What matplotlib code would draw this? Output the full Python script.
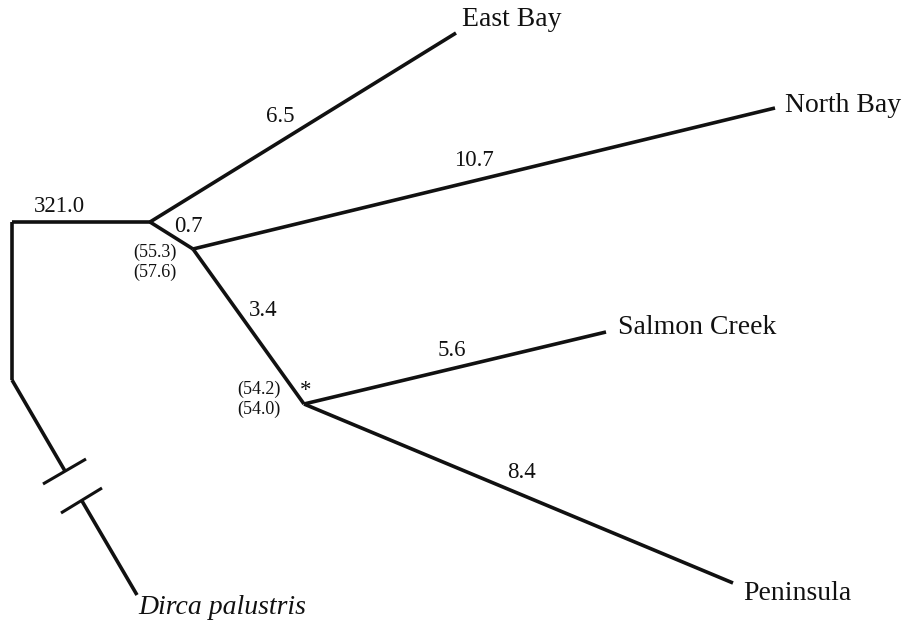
import matplotlib
matplotlib.use("Agg")
import matplotlib.pyplot as plt

# Taxa and branch-length labels
taxa = ["East Bay", "North Bay", "Salmon Creek", "Peninsula", "Dirca palustris"]
branch_lengths = {"root": "321.0", "east": "6.5", "north": "10.7", "inner1": "0.7",
                  "inner2": "3.4", "salmon": "5.6", "peninsula": "8.4"}
support_node1 = ["(55.3)", "(57.6)"]
support_node2 = ["(54.2)", "(54.0)"]

# Drawing layout (pixel space, y downward)
nodes = {
    "root_top": (12, 222), "root_bot": (12, 380),
    "A": (150, 222), "B": (193, 249), "C": (304, 404),
    "east": (456, 33), "north": (775, 108), "salmon": (606, 332),
    "peninsula": (733, 583), "dirca": (137, 595),
    "gap1": (65, 471), "gap2": (82, 501),
}
edges = [("root_top", "root_bot"), ("root_top", "A"), ("A", "east"), ("A", "B"),
         ("B", "north"), ("B", "C"), ("C", "salmon"), ("C", "peninsula"),
         ("root_bot", "gap1"), ("gap2", "dirca")]

fig = plt.figure(figsize=(9.02, 6.25), dpi=100)
ax = fig.add_axes([0, 0, 1, 1])
ax.set_xlim(0, 902)
ax.set_ylim(625, 0)
ax.axis("off")

lw = 2.6
for a, b in edges:
    (x0, y0), (x1, y1) = nodes[a], nodes[b]
    ax.plot([x0, x1], [y0, y1], color="#111111", lw=lw, solid_capstyle="butt",
            solid_joinstyle="miter")

# Break marks on the long outgroup branch
ax.plot([43, 86], [484, 459], color="#111111", lw=2.2, solid_capstyle="butt")
ax.plot([61, 102], [513, 488], color="#111111", lw=2.2, solid_capstyle="butt")

serif = ["Liberation Serif", "DejaVu Serif"]
big = 20
mid = 16.5
small = 13

# Branch length labels
lab_pos = {"root": (59, 207), "east": (280, 117), "north": (474, 161),
           "inner1": (188, 226), "inner2": (263, 310), "salmon": (452, 351),
           "peninsula": (521, 473)}
for k, (x, y) in lab_pos.items():
    ax.text(x, y, branch_lengths[k], fontsize=mid, family=serif,
            ha="center", va="center", color="#111111")

# Bootstrap / support values
for i, s in enumerate(support_node1):
    ax.text(155, 252 + 20 * i, s, fontsize=small, family=serif, ha="center",
            va="center", color="#111111")
for i, s in enumerate(support_node2):
    ax.text(259, 389 + 20 * i, s, fontsize=small, family=serif, ha="center",
            va="center", color="#111111")
ax.text(306, 391, "*", fontsize=mid, family=serif, ha="center", va="center",
        color="#111111")

# Taxon labels
tip_pos = {"East Bay": (462, 20), "North Bay": (785, 106), "Salmon Creek": (618, 327),
           "Peninsula": (743, 593), "Dirca palustris": (138, 607)}
for t in taxa:
    x, y = tip_pos[t]
    style = "italic" if t == "Dirca palustris" else "normal"
    ax.text(x, y, t, fontsize=big, family=serif, style=style, ha="left", va="center",
            color="#111111")

fig.savefig("out.png", dpi=100)
